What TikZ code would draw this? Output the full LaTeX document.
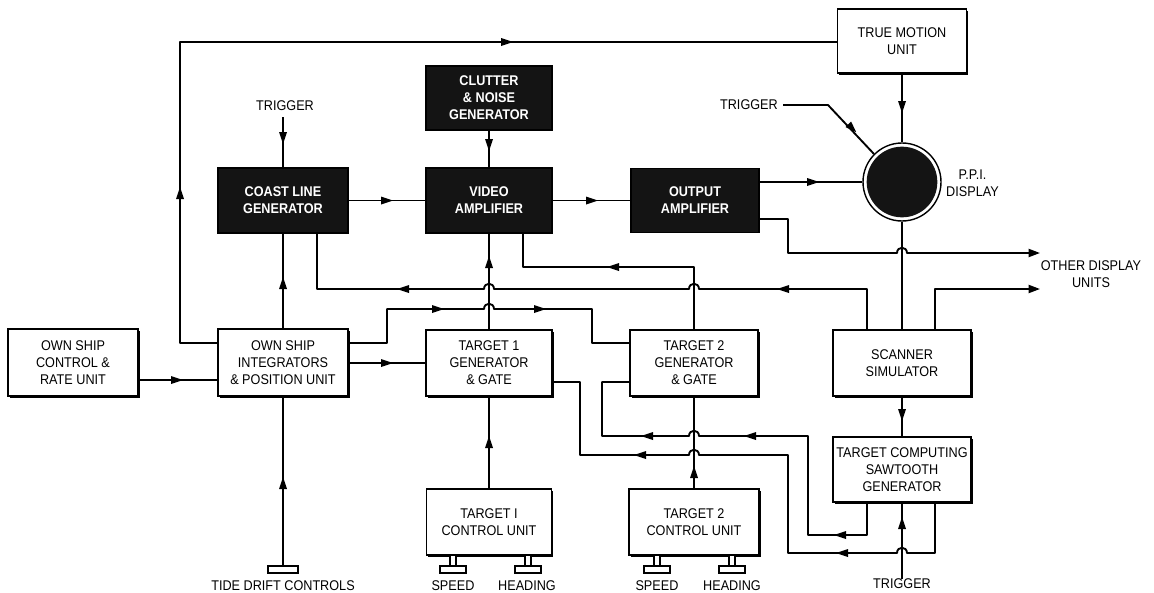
\documentclass[tikz,border=0pt]{standalone}
\usepackage{fontspec}
\setmainfont{Liberation Sans}[FakeStretch=0.9]
\usetikzlibrary{arrows.meta,shadows}
\newcommand\dfont{\fontsize{12}{14.5}\selectfont}
\newcommand\mkR[2]{\fill (#1,#2) ++(6,0) -- ++(-12,-4) -- ++(0,8) -- cycle;}
\newcommand\mkL[2]{\fill (#1,#2) ++(-6,0) -- ++(12,-4) -- ++(0,8) -- cycle;}
\newcommand\mkU[2]{\fill (#1,#2) ++(0,-6) -- ++(-4,12) -- ++(8,0) -- cycle;}
\newcommand\mkD[2]{\fill (#1,#2) ++(0,6) -- ++(-4,-12) -- ++(8,0) -- cycle;}
\newcommand\knob[1]{\draw[line width=0.9pt, fill=white] (#1-3,555) rectangle (#1+3,566);
  \draw[line width=0.9pt, fill=white] (#1-13,566) rectangle (#1+13,573);}
\tikzset{
  wire/.style={line width=1.6pt, line join=round},
  tipwire/.style={wire, -{Triangle[length=3.4mm,width=2.4mm]}},
  box/.style={draw, line width=1.3pt, fill=white, align=center, inner sep=0pt, font=\dfont,
     drop shadow={shadow xshift=0.45mm, shadow yshift=-0.45mm, opacity=1, fill=black}},
  blackbox/.style={draw, line width=1.3pt, fill=black!92, text=white, align=center, inner sep=0pt, font=\dfont\bfseries},
  lbl/.style={align=center, inner sep=0pt, font=\dfont},
}
\begin{document}
\begin{tikzpicture}[x=0.3mm, y=-0.3mm]
\useasboundingbox (0,0) rectangle (1154,593);
\fill[white] (0,0) rectangle (1154,593);

% boxes
\node[box, minimum width=129*0.3mm, minimum height=64*0.3mm] (tmu) at (902,41) {TRUE MOTION\\UNIT};
\node[blackbox, minimum width=126*0.3mm, minimum height=64*0.3mm] (cng) at (489,98) {CLUTTER\\\& NOISE\\GENERATOR};
\node[blackbox, minimum width=130*0.3mm, minimum height=65*0.3mm] (clg) at (283,200.5) {COAST LINE\\GENERATOR};
\node[blackbox, minimum width=126*0.3mm, minimum height=65*0.3mm] (va) at (489,200.5) {VIDEO\\AMPLIFIER};
\node[blackbox, minimum width=128*0.3mm, minimum height=64*0.3mm] (oa) at (695,200.5) {OUTPUT\\AMPLIFIER};
\node[circle, draw, line width=1.2pt, minimum size=78*0.3mm, inner sep=0pt] (ppi) at (902,182) {};
\fill[black!92] (ppi.center) circle[radius=10.6mm];
\node[box, minimum width=130*0.3mm, minimum height=67*0.3mm] (oscr) at (73,362.5) {OWN SHIP\\CONTROL \&\\RATE UNIT};
\node[box, minimum width=130*0.3mm, minimum height=67*0.3mm] (osi) at (283,362.5) {OWN SHIP\\INTEGRATORS\\\& POSITION UNIT};
\node[box, minimum width=126*0.3mm, minimum height=66*0.3mm] (t1g) at (489,363) {TARGET 1\\GENERATOR\\\& GATE};
\node[box, minimum width=128*0.3mm, minimum height=66*0.3mm] (t2g) at (694,363) {TARGET 2\\GENERATOR\\\& GATE};
\node[box, minimum width=138*0.3mm, minimum height=66*0.3mm] (ss) at (902,363) {SCANNER\\SIMULATOR};
\node[box, minimum width=138*0.3mm, minimum height=65*0.3mm] (tcsg) at (902,469.5) {TARGET COMPUTING\\SAWTOOTH\\GENERATOR};
\node[box, minimum width=125*0.3mm, minimum height=66*0.3mm] (t1c) at (489,522) {TARGET I\\CONTROL UNIT};
\node[box, minimum width=130*0.3mm, minimum height=66*0.3mm] (t2c) at (694,522) {TARGET 2\\CONTROL UNIT};

% labels
\node[lbl] (trig1) at (285,106) {TRIGGER};
\node[lbl, anchor=east] (trig2) at (778,105) {TRIGGER};
\node[lbl] (trig3) at (902,584) {TRIGGER};
\node[lbl] (tide) at (283,586) {TIDE DRIFT CONTROLS};
\node[lbl] (sp1) at (453,586) {SPEED};
\node[lbl] (hd1) at (527,586) {HEADING};
\node[lbl] (sp2) at (657,586) {SPEED};
\node[lbl] (hd2) at (732,586) {HEADING};
\node[lbl, anchor=west] (ppil) at (946,183) {P.P.I.\\DISPLAY};
\node[lbl] (odu) at (1091,274) {OTHER DISPLAY\\UNITS};
\coordinate (od1) at (1040,253);
\coordinate (od2) at (1040,289);
\coordinate (tdk) at (283,566);
\coordinate (tg1) at (283,117);
\coordinate (tg2) at (783,105);

% knobs
\draw[line width=0.9pt, fill=white] (268,566) rectangle (298,573);
\knob{453}\knob{528}\knob{657}\knob{732}

% wires
\draw[wire] (oscr.east |- 0,380) -- (osi.west |- 0,380); \mkR{177}{380}
\draw[wire] (osi.west |- 0,343) -| (180,42) -- (tmu.west |- 0,42); \mkU{180}{193} \mkR{507}{42}
\draw[wire] (osi.north) -- (clg.south); \mkU{283}{283}
\draw[wire] (tg1) -- (clg.north); \mkD{283}{138}
\draw[wire] (tdk) -- (osi.south); \mkU{283}{483}
\draw[wire] (clg.east) -- (va.west); \mkR{387}{200.5}
\draw[wire] (cng.south) -- (va.north); \mkD{489}{145}
\draw[wire] (va.east) -- (oa.west); \mkR{592}{200.5}
\draw[wire] (oa.east |- ppi.west) -- (ppi.west); \mkR{813}{182}
\draw[tipwire] (oa.east |- 0,219) -- (788,219) -- (788,253) -- (897,253) .. controls (897,246) and (907,246) .. (907,253) -- (od1);
\draw[wire] (tmu.south) -- (ppi.north); \mkD{902}{107}
\draw[wire] (tg2) -- (828,105) -- (ppi.135);
\fill (856.2,132.2) -- (845.5,127.1) -- (851.1,121.5) -- cycle;
\draw[wire] (ppi.south) -- (ss.north);
\draw[wire] (ss.north -| 867,0) -- (867,289) -- (699,289) .. controls (699,282) and (689,282) .. (689,289)
   -- (494,289) .. controls (494,282) and (484,282) .. (484,289) -- (317,289) -- (clg.south -| 317,0);
\mkL{783}{289} \mkL{403}{289}
\draw[tipwire] (ss.north -| 935,0) -- (935,289) -- (od2);
\draw[wire] (ss.south) -- (tcsg.north); \mkD{902}{415}
\draw[wire] (trig3.north) -- (tcsg.south); \mkU{902}{523}
\draw[wire] (tcsg.south -| 867,0) -- (867,535) -- (808,535) -- (808,436) -- (699,436)
   .. controls (699,429) and (689,429) .. (689,436) -- (602,436) -- (602,382) -- (t2g.west |- 0,382);
\mkL{840}{535} \mkL{750}{436} \mkL{647}{436}
\draw[wire] (tcsg.south -| 935,0) -- (935,553) -- (907,553) .. controls (907,546) and (897,546) .. (897,553)
   -- (788,553) -- (788,455) -- (699,455) .. controls (699,448) and (689,448) .. (689,455)
   -- (580,455) -- (580,382) -- (t1g.east |- 0,382);
\mkL{842}{553} \mkL{640}{455}
\draw[wire] (t1c.north) -- (t1g.south); \mkU{489}{442}
\draw[wire] (t1g.north) -- (va.south); \mkU{489}{262}
\draw[wire] (t2c.north) -- (t2g.south); \mkU{694}{472}
\draw[wire] (t2g.north) -- (694,267) -- (523,267) -- (va.south -| 523,0); \mkL{613}{267}
\draw[wire] (osi.east |- 0,343) -- (387,343) -- (387,309) -- (484,309) .. controls (484,302) and (494,302) .. (494,309)
   -- (592,309) -- (592,343) -- (t2g.west |- 0,343);
\mkR{438}{309} \mkR{540}{309}
\draw[wire] (osi.east |- 0,363) -- (t1g.west |- 0,363); \mkR{387}{363}
\end{tikzpicture}
\end{document}
